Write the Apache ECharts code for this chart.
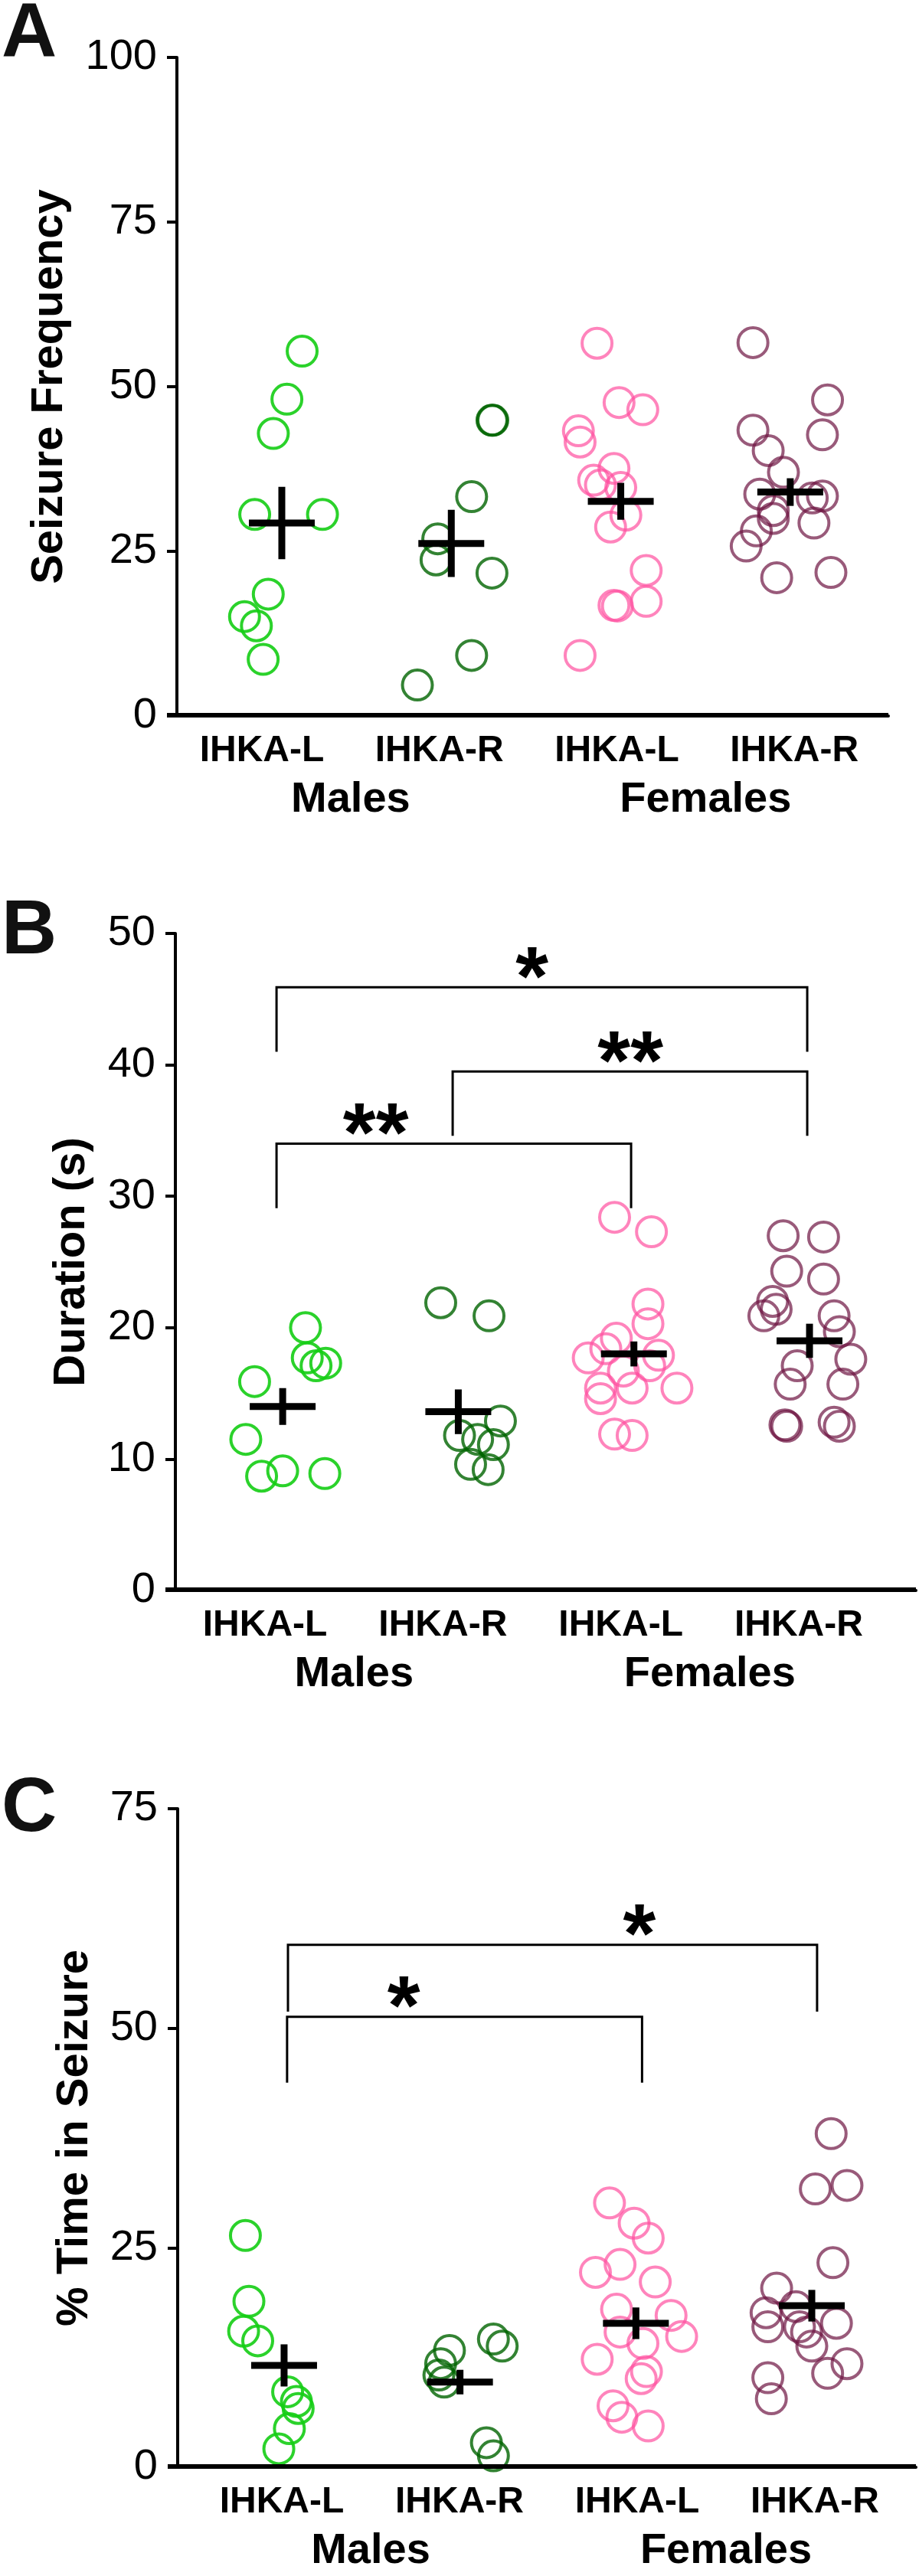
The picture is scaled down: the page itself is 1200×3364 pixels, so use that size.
<!DOCTYPE html>
<html><head><meta charset="utf-8">
<script src="https://cdn.jsdelivr.net/npm/echarts@6/dist/echarts.min.js"></script>
<style>html,body{margin:0;padding:0;background:#fff}#c{width:1200px;height:3364px}</style>
</head><body><div id="c"></div>
<script>
// ---------- categories / labels ----------
const groupLabels = ['IHKA-L', 'IHKA-R', 'IHKA-L', 'IHKA-R'];
const sexLabels = ['Males', 'Females'];
const yTitles = ['Seizure Frequency', 'Duration (s)', '% Time in Seizure'];
const panelLetters = ['A', 'B', 'C'];
const yMaxes = [100, 50, 75];
const yIntervals = [25, 10, 25];

// ---------- Panel A: seizure frequency ----------
const aMaleL = [55.4, 48.1, 42.9, 30.6, 30.6, 18.5, 15.1, 13.7, 8.6];
const aMaleLJit = [0.12, 0.03, -0.05, -0.16, 0.24, -0.08, -0.22, -0.15, -0.11];
const aMaleR = [44.9, 44.9, 33.3, 26.9, 23.7, 21.7, 9.2, 4.7];
const aMaleRJit = [0.24, 0.245, 0.12, -0.08, -0.09, 0.24, 0.12, -0.2];
const aFemL = [56.6, 47.6, 46.5, 43.3, 41.6, 37.6, 35.8, 35.1, 34.7, 30.5, 28.7, 22.1, 17.4, 16.8, 16.7, 9.2];
const aFemLJit = [-0.14, -0.01, 0.13, -0.25, -0.24, -0.04, -0.16, -0.12, 0.0, 0.03, -0.06, 0.15, 0.15, -0.04, -0.02, -0.24];
const aFemR = [56.7, 48.0, 43.4, 42.7, 40.3, 37.0, 33.7, 33.4, 33.1, 31.2, 30.0, 29.3, 28.1, 25.8, 21.0, 21.8];
const aFemRJit = [-0.22, 0.22, -0.22, 0.19, -0.13, -0.04, -0.18, 0.19, 0.13, -0.1, -0.1, 0.14, -0.2, -0.26, -0.08, 0.24];
const aMeans = [29.3, 26.2, 32.6, 34.0];
const aSems = [5.5, 5.1, 2.8, 2.1];

// ---------- Panel B: duration ----------
const bMaleL = [20.0, 17.7, 17.1, 17.3, 15.9, 11.5, 9.1, 8.9, 8.7];
const bMaleLJit = [0.13, 0.14, 0.19, 0.245, -0.16, -0.21, 0.0, 0.24, -0.12];
const bMaleR = [21.9, 20.9, 12.9, 11.8, 11.5, 11.1, 9.6, 9.2];
const bMaleRJit = [-0.1, 0.175, 0.24, 0.007, 0.11, 0.2, 0.07, 0.17];
const bFemL = [28.4, 27.3, 21.8, 20.3, 19.2, 18.4, 17.9, 17.7, 17.1, 16.7, 15.4, 15.4, 15.4, 14.6, 11.9, 11.8];
const bFemLJit = [-0.11, 0.1, 0.08, 0.08, -0.1, -0.16, 0.14, -0.26, 0.09, -0.06, -0.19, -0.01, 0.245, -0.19, -0.11, -0.01];
const bFemR = [27.0, 26.9, 24.3, 23.7, 22.0, 21.4, 20.9, 20.9, 19.7, 17.6, 17.1, 15.7, 15.7, 12.8, 12.6, 12.5, 12.5];
const bFemRJit = [-0.15, 0.08, -0.13, 0.08, -0.21, -0.19, -0.26, 0.14, 0.17, 0.235, -0.07, -0.11, 0.19, 0.14, -0.14, -0.13, 0.17];
const bMeans = [14.0, 13.6, 18.0, 19.0];
const bSems = [1.4, 1.7, 0.95, 1.3];
// bracket: [x left leg, x right leg, top y, left leg bottom y, right leg bottom y, star x]
const bBrackets = [[-0.035, 2.987, 45.9, 41.0, 41.0, 1.42], [0.968, 2.987, 39.5, 34.6, 34.6, 1.98], [-0.035, 1.984, 34.0, 29.1, 29.1, 0.53]];
const bStars = ['*', '**', '**'];

// ---------- Panel C: % time in seizure ----------
const cMaleL = [26.4, 18.9, 15.5, 14.4, 8.6, 7.5, 6.7, 4.4, 2.1];
const cMaleLJit = [-0.22, -0.2, -0.23, -0.15, 0.02, 0.07, 0.08, 0.03, -0.03];
const cMaleR = [14.6, 13.8, 13.3, 11.8, 10.5, 9.7, 2.8, 1.3];
const cMaleRJit = [0.19, 0.24, -0.06, -0.11, -0.12, -0.09, 0.15, 0.19];
const cFemL = [30.1, 27.8, 26.1, 23.1, 22.2, 21.1, 18.0, 17.3, 15.4, 14.9, 14.1, 12.3, 10.9, 10.1, 7.0, 5.7, 4.7];
const cFemLJit = [-0.15, -0.01, 0.07, -0.09, -0.23, 0.11, -0.11, 0.2, -0.09, 0.26, 0.04, -0.22, 0.06, 0.03, -0.13, -0.08, 0.07];
const cFemR = [38.0, 32.1, 31.7, 23.3, 20.4, 18.3, 17.6, 16.4, 16.0, 16.0, 15.4, 13.8, 11.8, 10.7, 10.2, 7.8];
const cFemRJit = [0.11, 0.2, 0.02, 0.12, -0.2, -0.09, -0.26, 0.14, -0.25, -0.07, -0.03, 0.0, 0.2, 0.09, -0.25, -0.23];
const cMeans = [11.6, 9.7, 16.4, 18.4];
const cSems = [2.4, 1.4, 1.8, 1.8];
const cBrackets = [[0.017, 2.035, 51.3, 43.8, 43.8, 0.68], [0.022, 3.03, 59.5, 51.9, 51.9, 2.02]];
const cStars = ['*', '*'];

// ---------- assemble ----------
const panelGroups = [
  [[aMaleL, aMaleLJit], [aMaleR, aMaleRJit], [aFemL, aFemLJit], [aFemR, aFemRJit]],
  [[bMaleL, bMaleLJit], [bMaleR, bMaleRJit], [bFemL, bFemLJit], [bFemR, bFemRJit]],
  [[cMaleL, cMaleLJit], [cMaleR, cMaleRJit], [cFemL, cFemLJit], [cFemR, cFemRJit]]
];
const panelMeans = [aMeans, bMeans, cMeans];
const panelSems = [aSems, bSems, cSems];
const panelBrackets = [[], bBrackets, cBrackets];
const panelStars = [[], bStars, cStars];

const groupColors = ['rgba(20,205,20,0.9)', 'rgba(0,100,0,0.8)', 'rgba(255,80,160,0.7)', 'rgba(110,20,65,0.7)'];
const FONT = "'Liberation Sans', Arial, Helvetica, sans-serif";
const STAR_FS = 110;

// layout (pixels / axis ranges)
const layout = [
  {main: {left: 231, right: 40, top: 75, height: 860}, xMin: -0.619, xMax: 3.579, labMin: -0.479, labMax: 3.530, nameGap: 137, letterY: 46},
  {main: {left: 229, right: 4, top: 1219, height: 858}, xMin: -0.611, xMax: 3.606, labMin: -0.504, labMax: 3.659, nameGap: 106, letterY: 1217},
  {main: {left: 232, right: 4, top: 2362, height: 860}, xMin: -0.605, xMax: 3.592, labMin: -0.586, labMax: 3.569, nameGap: 105, letterY: 2363}
];

const grid = [], xAxis = [], yAxis = [], series = [], graphic = [];
for (let p = 0; p < 3; p++) {
  const L = layout[p];
  const gMain = grid.length;
  grid.push({left: L.main.left, right: L.main.right, top: L.main.top, height: L.main.height, containLabel: false});

  const xMainIdx = xAxis.length;
  xAxis.push({type: 'value', gridIndex: gMain, min: L.xMin, max: L.xMax, position: 'bottom',
    axisLine: {show: true, onZero: false, lineStyle: {color: '#000', width: 4}},
    axisTick: {show: false}, axisLabel: {show: false}, splitLine: {show: false}});
  // group labels (IHKA-L / IHKA-R)
  xAxis.push({type: 'value', gridIndex: gMain, min: L.labMin, max: L.labMax, position: 'bottom',
    axisLine: {show: false}, axisTick: {show: false}, splitLine: {show: false},
    axisLabel: {show: true, customValues: [0, 1, 2, 3], formatter: v => groupLabels[Math.round(v)],
      fontSize: 48, fontWeight: 'bold', color: '#000', margin: 22, fontFamily: FONT}});
  // sex labels (Males / Females)
  xAxis.push({type: 'value', gridIndex: gMain, min: L.labMin, max: L.labMax, position: 'bottom', offset: 60,
    axisLine: {show: false}, axisTick: {show: false}, splitLine: {show: false},
    axisLabel: {show: true, customValues: [0.5, 2.5], formatter: v => sexLabels[Math.round((v - 0.5) / 2)],
      fontSize: 56, fontWeight: 'bold', color: '#000', margin: 22, fontFamily: FONT}});

  const yMainIdx = yAxis.length;
  yAxis.push({type: 'value', gridIndex: gMain, min: 0, max: yMaxes[p], interval: yIntervals[p], position: 'left',
    axisLine: {show: true, onZero: false, lineStyle: {color: '#000', width: 4}},
    axisTick: {show: true, length: 13, lineStyle: {color: '#000', width: 4}},
    axisLabel: {fontSize: 56, color: '#000', margin: 26, fontFamily: FONT},
    splitLine: {show: false},
    name: yTitles[p], nameLocation: 'middle', nameGap: L.nameGap,
    nameTextStyle: {fontSize: 58, fontWeight: 'bold', color: '#000', fontFamily: FONT}});

  // points
  panelGroups[p].forEach((g, gi) => {
    const vals = g[0], jit = g[1];
    series.push({type: 'scatter', xAxisIndex: xMainIdx, yAxisIndex: yMainIdx, z: 2,
      symbol: 'circle', symbolSize: 39, silent: true, clip: false,
      itemStyle: {color: 'rgba(0,0,0,0)', borderColor: groupColors[gi], borderWidth: 4, opacity: 1},
      data: vals.map((v, k) => [gi + jit[k], v])});
  });

  // mean +/- SEM crosses (first item also reinforces the x-axis baseline at y = 0)
  const xMin = L.xMin, xMax = L.xMax;
  series.push({type: 'custom', xAxisIndex: xMainIdx, yAxisIndex: yMainIdx, z: 5, silent: true, clip: false,
    data: panelMeans[p].map((m, i) => [i, m, panelSems[p][i]]),
    renderItem: (params, api) => {
      const x = api.value(0), m = api.value(1), s = api.value(2);
      const c = api.coord([x, m]), t = api.coord([x, m + s]), b = api.coord([x, m - s]);
      const kids = [
        {type: 'line', shape: {x1: c[0] - 43, y1: c[1], x2: c[0] + 43, y2: c[1]}, style: {stroke: '#000', lineWidth: 9}},
        {type: 'line', shape: {x1: c[0], y1: t[1], x2: c[0], y2: b[1]}, style: {stroke: '#000', lineWidth: 9}}
      ];
      if (params.dataIndex === 0) {
        const a0 = api.coord([xMin, 0]), a1 = api.coord([xMax, 0]);
        kids.push({type: 'rect', shape: {x: a0[0] - 13, y: a0[1] - 4, width: a1[0] - a0[0] + 13, height: 6},
          style: {fill: '#000'}});
      }
      return {type: 'group', children: kids};
    }});

  // significance brackets
  if (panelBrackets[p].length) {
    const stars = panelStars[p];
    series.push({type: 'custom', xAxisIndex: xMainIdx, yAxisIndex: yMainIdx, z: 6, silent: true,
      data: panelBrackets[p],
      renderItem: (params, api) => {
        const x1 = api.value(0), x2 = api.value(1), yt = api.value(2), yl = api.value(3), yr = api.value(4), sx = api.value(5);
        const p1 = api.coord([x1, yl]), p2 = api.coord([x1, yt]), p3 = api.coord([x2, yt]), p4 = api.coord([x2, yr]);
        const ps = api.coord([sx, yt]);
        return {type: 'group', children: [
          {type: 'polyline', shape: {points: [p1, p2, p3, p4]}, style: {stroke: '#000', lineWidth: 3, fill: null}},
          {type: 'text', x: ps[0], y: ps[1] - 30 + 0.2 * STAR_FS,
            style: {text: stars[params.dataIndex], fontSize: STAR_FS, fontWeight: 'bold', fontFamily: FONT,
              fill: '#000', align: 'center', verticalAlign: 'middle'}}
        ]};
      }});
  }

  graphic.push({type: 'text', x: 2, y: L.letterY,
    style: {text: panelLetters[p], fontSize: 100, fontWeight: 'bold', fontFamily: FONT, fill: '#111',
      align: 'left', verticalAlign: 'middle'}});
}

const chart = echarts.init(document.getElementById('c'), null, {renderer: 'canvas'});
chart.setOption({animation: false, backgroundColor: '#fff', grid, xAxis, yAxis, series, graphic});
</script>
</body></html>
